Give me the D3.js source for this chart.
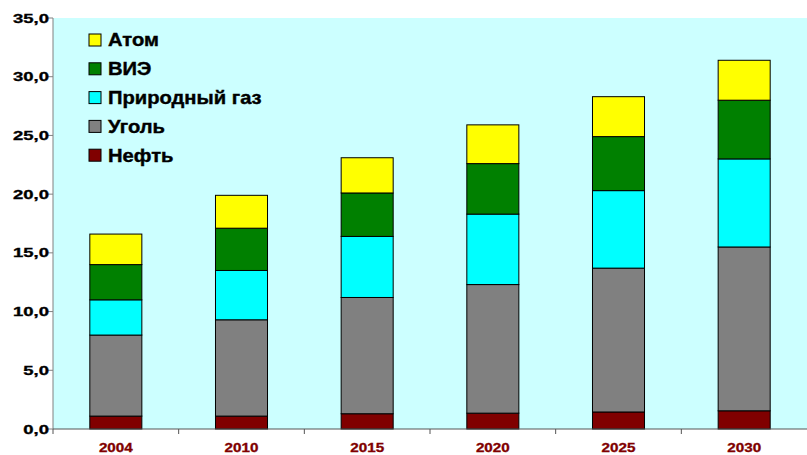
<!DOCTYPE html>
<html>
<head>
<meta charset="utf-8">
<script src="https://cdn.jsdelivr.net/npm/d3@7"></script>
<style>
  html, body { margin: 0; padding: 0; background: #fff; }
  svg { display: block; font-family: "Liberation Sans", Arial, sans-serif; font-weight: bold; }
</style>
</head>
<body>
<svg id="chart" width="807" height="455"></svg>
<script>
(function(){
'use strict';

    var years   = ['2004', '2010', '2015', '2020', '2025', '2030'];
    var oil     = [1.1, 1.1, 1.3, 1.35, 1.45, 1.55];
    var coal    = [6.9, 8.2, 9.9, 10.95, 12.25, 13.95];
    var gas     = [3.0, 4.2, 5.2, 6.0, 6.6, 7.5];
    var renew   = [3.0, 3.6, 3.7, 4.3, 4.6, 5.0];
    var nuclear = [2.6, 2.8, 3.0, 3.3, 3.4, 3.4];
    var yTicks  = [0, 5, 10, 15, 20, 25, 30, 35];

    var seriesKeys   = ['oil', 'coal', 'gas', 'renew', 'nuclear'];
    var seriesNames  = {oil: 'Нефть', coal: 'Уголь', gas: 'Природный газ', renew: 'ВИЭ', nuclear: 'Атом'};
    var seriesColors = {oil: '#800000', coal: '#808080', gas: '#00ffff', renew: '#008000', nuclear: '#ffff00'};

    var rows = years.map(function(y, i) {
        return {year: y, oil: oil[i], coal: coal[i], gas: gas[i], renew: renew[i], nuclear: nuclear[i]};
    });

    var svg = d3.select('#chart'),
        plot = {left: 53, right: 807, top: 18, bottom: 429};

    var x = d3.scaleBand().domain(years).range([plot.left, plot.right])
            .paddingInner(0.586).paddingOuter(0.293),
        y = d3.scaleLinear().domain([0, 35]).range([plot.bottom, plot.top]);

    // plot area background
    svg.append('rect')
        .attr('x', plot.left).attr('y', plot.top)
        .attr('width', plot.right - plot.left).attr('height', plot.bottom - plot.top)
        .attr('fill', '#ccffff');

    var stacked = d3.stack().keys(seriesKeys)(rows);

    var layers = svg.selectAll('g.layer').data(stacked);
    layers.enter().append('g')
        .attr('class', 'layer')
        .attr('fill', function(d) { return seriesColors[d.key]; })
        .selectAll('rect').data(function(d) { return d; })
        .enter().append('rect')
            .attr('x', function(d) { return x(d.data.year); })
            .attr('y', function(d) { return y(d[1]); })
            .attr('width', x.bandwidth())
            .attr('height', function(d) { return y(d[0]) - y(d[1]); })
            .attr('stroke', '#000')
            .attr('stroke-width', 1);

    // y axis
    var yAxis = svg.append('g').attr('transform', 'translate(' + plot.left + ',0)');
    yAxis.append('line')
        .attr('x1', 0).attr('x2', 0).attr('y1', plot.top).attr('y2', plot.bottom)
        .attr('stroke', '#808080');
    var yt = yAxis.selectAll('g.tick').data(yTicks).enter().append('g')
        .attr('class', 'tick')
        .attr('transform', function(d) { return 'translate(0,' + y(d) + ')'; });
    yt.append('line').attr('x1', -6).attr('x2', 0).attr('stroke', '#808080');
    yt.append('text')
        .attr('transform', 'translate(-4,0) scale(1.42,1)')
        .attr('text-anchor', 'end')
        .attr('dy', '0.35em')
        .attr('font-size', 13)
        .attr('fill', '#000')
        .attr('stroke', '#000')
        .attr('stroke-width', 0.35)
        .text(function(d) { return d3.format('.1f')(d).replace('.', ','); });

    // x axis
    var xAxis = svg.append('g');
    xAxis.append('line')
        .attr('x1', plot.left).attr('x2', plot.right).attr('y1', plot.bottom).attr('y2', plot.bottom)
        .attr('stroke', '#555');
    var boundaries = years.map(function(d) { return x(d) + x.bandwidth() / 2 - x.step() / 2; });
    xAxis.selectAll('line.tick').data(boundaries).enter().append('line')
        .attr('class', 'tick')
        .attr('x1', function(d) { return d; }).attr('x2', function(d) { return d; })
        .attr('y1', plot.bottom).attr('y2', plot.bottom + 5)
        .attr('stroke', '#555');
    xAxis.selectAll('text').data(years).enter().append('text')
        .attr('transform', function(d) { return 'translate(' + (x(d) + x.bandwidth() / 2) + ',452) scale(1.27,1)'; })
        .attr('text-anchor', 'middle')
        .attr('font-size', 12)
        .attr('fill', '#800000')
        .attr('stroke', '#800000')
        .attr('stroke-width', 0.3)
        .text(function(d) { return d; });

    // legend, top entry is the last stacked layer
    var legendKeys = seriesKeys.slice().reverse();
    var legend = svg.selectAll('g.legend').data(legendKeys).enter().append('g')
        .attr('class', 'legend')
        .attr('transform', function(d, i) { return 'translate(89,' + (40 + i * 28.8) + ')'; });
    legend.append('rect')
        .attr('x', 0).attr('y', -6).attr('width', 12).attr('height', 12)
        .attr('fill', function(d) { return seriesColors[d]; })
        .attr('stroke', '#000');
    legend.append('text')
        .attr('transform', 'translate(19,0) scale(1.12,1)')
        .attr('dy', '0.36em')
        .attr('font-size', 18)
        .attr('fill', '#000')
        .attr('stroke', '#000')
        .attr('stroke-width', 0.4)
        .text(function(d) { return seriesNames[d]; });

})();
</script>
</body>
</html>
